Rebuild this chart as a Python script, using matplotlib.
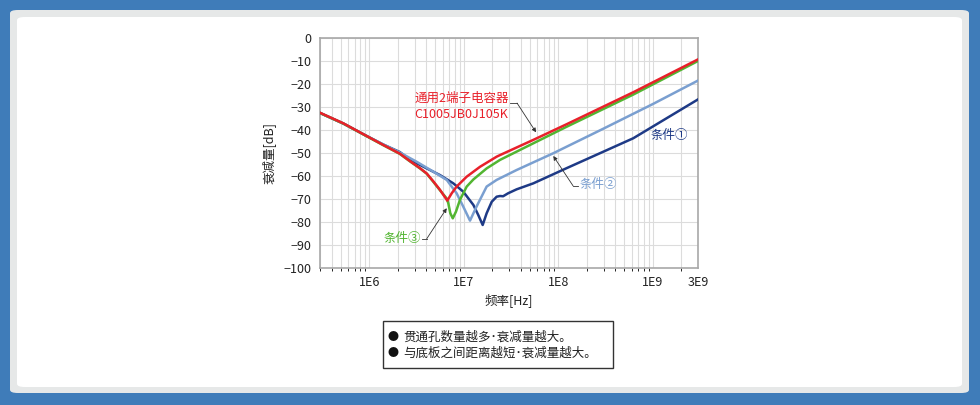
import matplotlib
matplotlib.use("Agg")
import matplotlib.pyplot as plt
from matplotlib.patches import FancyBboxPatch, Rectangle

plt.rcParams['font.family'] = ['Noto Sans CJK SC', 'DejaVu Sans']

# frequency [Hz] / attenuation [dB]
f_red = [3.0e5, 5.3e5, 9.35e5, 1.4e6, 2.1e6, 2.7e6, 3.43e6, 4.04e6, 4.74e6, 5.58e6,
         6.67e6, 7.43e6, 8.37e6, 1.07e7, 1.48e7, 2.22e7, 2.41e7, 5.42e7, 1.22e8, 6.19e8, 3.0e9]
db_red = [-32.5, -37.1, -42.6, -46.5, -50.3, -53.6, -56.6, -58.9, -62.3, -66.0,
          -70.7, -67.5, -64.6, -60.3, -56.0, -51.6, -50.9, -44.3, -37.5, -23.6, -9.3]

f_green = [3.0e5, 5.3e5, 9.35e5, 1.4e6, 2.1e6, 2.7e6, 3.43e6, 4.04e6, 4.74e6, 5.58e6,
           6.58e6, 6.84e6, 7.18e6, 7.62e6, 8.24e6, 9.08e6, 1.07e7, 1.26e7, 1.74e7, 2.41e7,
           5.42e7, 1.22e8, 6.19e8, 3.0e9]
db_green = [-32.6, -37.2, -42.7, -46.6, -50.4, -53.7, -56.7, -59.0, -62.5, -66.2,
            -69.8, -71.9, -76.2, -78.4, -75.5, -70.4, -64.6, -61.5, -56.7, -53.0,
            -45.8, -38.6, -24.6, -10.0]

f_lblue = [3.0e5, 5.3e5, 9.35e5, 1.4e6, 2.1e6, 3.16e6, 4.74e6, 6.58e6, 8.37e6, 9.84e6,
           1.16e7, 1.36e7, 1.74e7, 2.22e7, 3.61e7, 8.83e7, 3.0e8, 1.0e9, 3.0e9]
db_lblue = [-32.6, -37.2, -42.6, -46.3, -49.8, -53.8, -58.1, -61.7, -67.5, -73.3,
            -79.4, -73.3, -64.6, -61.7, -57.4, -50.1, -39.4, -28.7, -18.5]

f_dblue = [3.0e5, 5.3e5, 9.35e5, 1.4e6, 2.1e6, 2.7e6, 4.04e6, 5.58e6, 7.73e6, 9.84e6,
           1.26e7, 1.42e7, 1.58e7, 1.74e7, 1.97e7, 2.22e7, 2.41e7, 2.6e7, 2.94e7, 3.61e7,
           5.42e7, 1.22e8, 6.19e8, 3.0e9]
db_dblue = [-32.6, -37.2, -42.6, -46.3, -49.6, -53.0, -56.7, -59.6, -63.2, -66.8,
            -72.6, -77.0, -81.3, -76.2, -71.2, -69.0, -68.7, -68.8, -67.5, -65.8,
            -63.2, -56.6, -43.6, -26.7]

x_ticks = [1e6, 1e7, 1e8, 1e9, 3e9]
x_labels = ['1E6', '1E7', '1E8', '1E9', '3E9']
y_ticks = list(range(-100, 1, 10))

notes = ['贯通孔数量越多･衰减量越大。', '与底板之间距离越短･衰减量越大。']

c_red = '#e8202a'
c_green = '#52b531'
c_lblue = '#7a9fd0'
c_dblue = '#1e3a86'

W, H = 980, 405
fig = plt.figure(figsize=(W / 100, H / 100), dpi=100)
fig.patch.set_facecolor('#3f7cb9')


def fx(px):
    return px / W


def fy(py):
    return 1 - py / H


# frame, kept behind the axes
fig.add_artist(FancyBboxPatch((fx(10), fy(393)), fx(959), 383 / H,
                              boxstyle='round,pad=0,rounding_size=0.008',
                              transform=fig.transFigure, fc='#e6e8e8', ec='none', zorder=-2))
fig.add_artist(FancyBboxPatch((fx(17), fy(387)), fx(945), 370 / H,
                              boxstyle='round,pad=0,rounding_size=0.008',
                              transform=fig.transFigure, fc='white', ec='none', zorder=-1))

ax = fig.add_axes([fx(320), fy(268), fx(378), 230 / H])
ax.set_xscale('log')
ax.set_xlim(3e5, 3e9)
ax.set_ylim(-100, 0)

ax.plot(f_dblue, db_dblue, color=c_dblue, lw=1.8, zorder=3)
ax.plot(f_lblue, db_lblue, color=c_lblue, lw=1.8, zorder=3)
ax.plot(f_green, db_green, color=c_green, lw=1.8, zorder=4)
ax.plot(f_red, db_red, color=c_red, lw=1.8, zorder=5)

ax.set_xticks(x_ticks)
ax.set_xticklabels(x_labels)
ax.set_yticks(y_ticks)
ax.tick_params(length=0, labelsize=9, pad=6, colors='#222222')
ax.grid(True, which='both', axis='x', color='#dcdcdc', lw=0.8)
ax.grid(True, which='major', axis='y', color='#dcdcdc', lw=0.8)
ax.set_axisbelow(True)
for s in ax.spines.values():
    s.set_color('#a8a8a8')
    s.set_linewidth(1.2)

ax.set_xlabel('频率[Hz]', fontsize=9, labelpad=3, color='#222222')
ax.set_ylabel('衰减量[dB]', fontsize=9, labelpad=6, color='#222222')

arrow = dict(arrowstyle='-|>', color='#333333', lw=0.6, mutation_scale=6, shrinkA=0, shrinkB=0)

# red label
ax.text(3.0e6, -29.6, '通用2端子电容器\nC1005JB0J105K', color=c_red, fontsize=9,
        ha='left', va='center', linespacing=1.3)
ax.plot([3.08e7, 3.65e7], [-28.3, -28.3], color='#333333', lw=0.6)
ax.annotate('', xy=(5.8e7, -41.0), xytext=(3.65e7, -28.3), arrowprops=arrow)

# condition 1
ax.text(9.55e8, -42.2, '条件①', color=c_dblue, fontsize=9, ha='left', va='center')

# condition 2
ax.text(1.69e8, -63.9, '条件②', color=c_lblue, fontsize=9, ha='left', va='center')
ax.plot([1.43e8, 1.61e8], [-64.3, -64.3], color='#333333', lw=0.6)
ax.annotate('', xy=(8.83e7, -51.3), xytext=(1.43e8, -64.3), arrowprops=arrow)

# condition 3
ax.text(3.52e6, -87.0, '条件③', color=c_green, fontsize=9, ha='right', va='center')
ax.plot([3.6e6, 4.04e6], [-87.3, -87.3], color='#333333', lw=0.6)
ax.annotate('', xy=(6.58e6, -74.0), xytext=(4.04e6, -87.3), arrowprops=arrow)

# note box
fig.add_artist(Rectangle((fx(383), fy(368)), fx(230), 47 / H, transform=fig.transFigure,
                         fc='white', ec='#333333', lw=1))
for i, t in enumerate(notes):
    y = 337 + i * 16
    fig.text(fx(393), fy(y), '●', fontsize=8, ha='center', va='center', color='#111111')
    fig.text(fx(403), fy(y), t, fontsize=9, ha='left', va='center', color='#222222')

fig.savefig('out.png', dpi=100, facecolor=fig.get_facecolor())
